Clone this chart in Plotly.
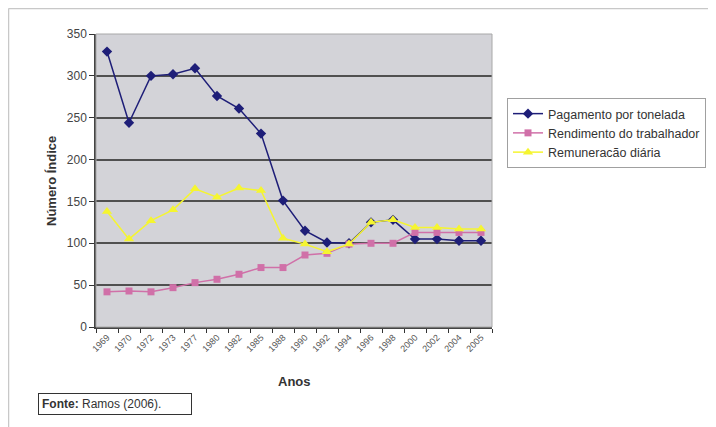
import plotly.graph_objects as go

anos = ["1969", "1970", "1972", "1973", "1977", "1980", "1982", "1985", "1988",
        "1990", "1992", "1994", "1996", "1998", "2000", "2002", "2004", "2005"]
pagamento = [329, 244, 300, 302, 309, 276, 261, 231, 151, 115, 101, 100, 125, 128, 105, 105, 103, 103]
rendimento = [42, 43, 42, 47, 53, 57, 63, 71, 71, 86, 88, 99, 100, 100, 113, 113, 113, 113]
remuneracao = [138, 105, 127, 140, 165, 155, 166, 163, 106, 99, 90, 99, 125, 128, 119, 119, 117, 117]

# page offset of the figure (browser body margin)
OFF = 8
W, H = 708, 419
L, T = 96 - OFF, 34 - OFF
PW, PH = 396, 293
R, B = W - L - PW, H - T - PH

def px(x):
    return (x - OFF - L) / PW

def py(y):
    return (T + PH - (y - OFF)) / PH

fig = go.Figure()
fig.add_trace(go.Scatter(x=anos, y=pagamento, name="Pagamento por tonelada",
                         mode="lines+markers",
                         line=dict(color="#1E1E78", width=1.5),
                         marker=dict(symbol="diamond", size=8, color="#1E1E78")))
fig.add_trace(go.Scatter(x=anos, y=rendimento, name="Rendimento do trabalhador",
                         mode="lines+markers",
                         line=dict(color="#D070A8", width=1.5),
                         marker=dict(symbol="square", size=7, color="#D070A8")))
fig.add_trace(go.Scatter(x=anos, y=remuneracao, name="Remuneracão diária",
                         mode="lines+markers",
                         line=dict(color="#F5F530", width=1.5),
                         marker=dict(symbol="triangle-up", size=9, color="#F5F530")))

fig.update_layout(
    width=W, height=H,
    margin=dict(l=L, r=R, t=T, b=B, autoexpand=False),
    paper_bgcolor="white",
    plot_bgcolor="#D3D3D8",
    font=dict(family="Liberation Sans, Arial, sans-serif", color="#333333"),
    showlegend=True,
    legend=dict(x=px(507), y=py(98), xanchor="left", yanchor="top",
                bordercolor="#A0A0A0", borderwidth=1, bgcolor="white",
                font=dict(size=12.5, color="#333333"),
                tracegroupgap=0, itemwidth=30),
    xaxis=dict(type="category", tickson="boundaries", ticks="outside", ticklen=4,
               tickcolor="#333333", tickangle=-45, automargin=False,
               tickfont=dict(size=9, color="#555555"),
               showgrid=False, showline=True, linecolor="#444444", linewidth=1.5,
               mirror=False, range=[-0.5, 17.5]),
    yaxis=dict(range=[0, 350], dtick=50, ticks="outside", ticklen=5, automargin=False,
               tickcolor="#333333", tickfont=dict(size=12, color="#444444"),
               showgrid=True, gridcolor="#505050", gridwidth=1.6,
               showline=True, linecolor="#444444", linewidth=1.5,
               zeroline=False),
    shapes=[
        dict(type="rect", xref="paper", yref="paper", x0=0, x1=1, y0=0, y1=1,
             line=dict(color="#A8A8A8", width=1)),
        dict(type="line", xref="paper", yref="paper",
             x0=px(8.5), x1=px(716), y0=py(8.5), y1=py(8.5),
             line=dict(color="#C8C8C8", width=1.5)),
        dict(type="line", xref="paper", yref="paper",
             x0=px(8.5), x1=px(8.5), y0=py(8.5), y1=py(427),
             line=dict(color="#C8C8C8", width=1.5)),
    ],
    annotations=[
        dict(text="<b>Anos</b>", xref="paper", yref="paper", x=px(294), y=py(381),
             xanchor="center", yanchor="middle", showarrow=False,
             font=dict(size=13, color="#333333")),
        dict(text="<b>Número Índice</b>", xref="paper", yref="paper", x=px(51), y=py(181),
             xanchor="center", yanchor="middle", showarrow=False, textangle=-90,
             font=dict(size=13, color="#333333")),
        dict(text="<b>Fonte:</b> Ramos (2006).", xref="paper", yref="paper",
             x=px(38), y=py(393), xanchor="left", yanchor="top",
             showarrow=False, font=dict(size=12, color="#333333"),
             bordercolor="#333333", borderwidth=1, borderpad=3, bgcolor="white",
             width=146, align="left"),
    ],
)

fig.write_html("out.html")
